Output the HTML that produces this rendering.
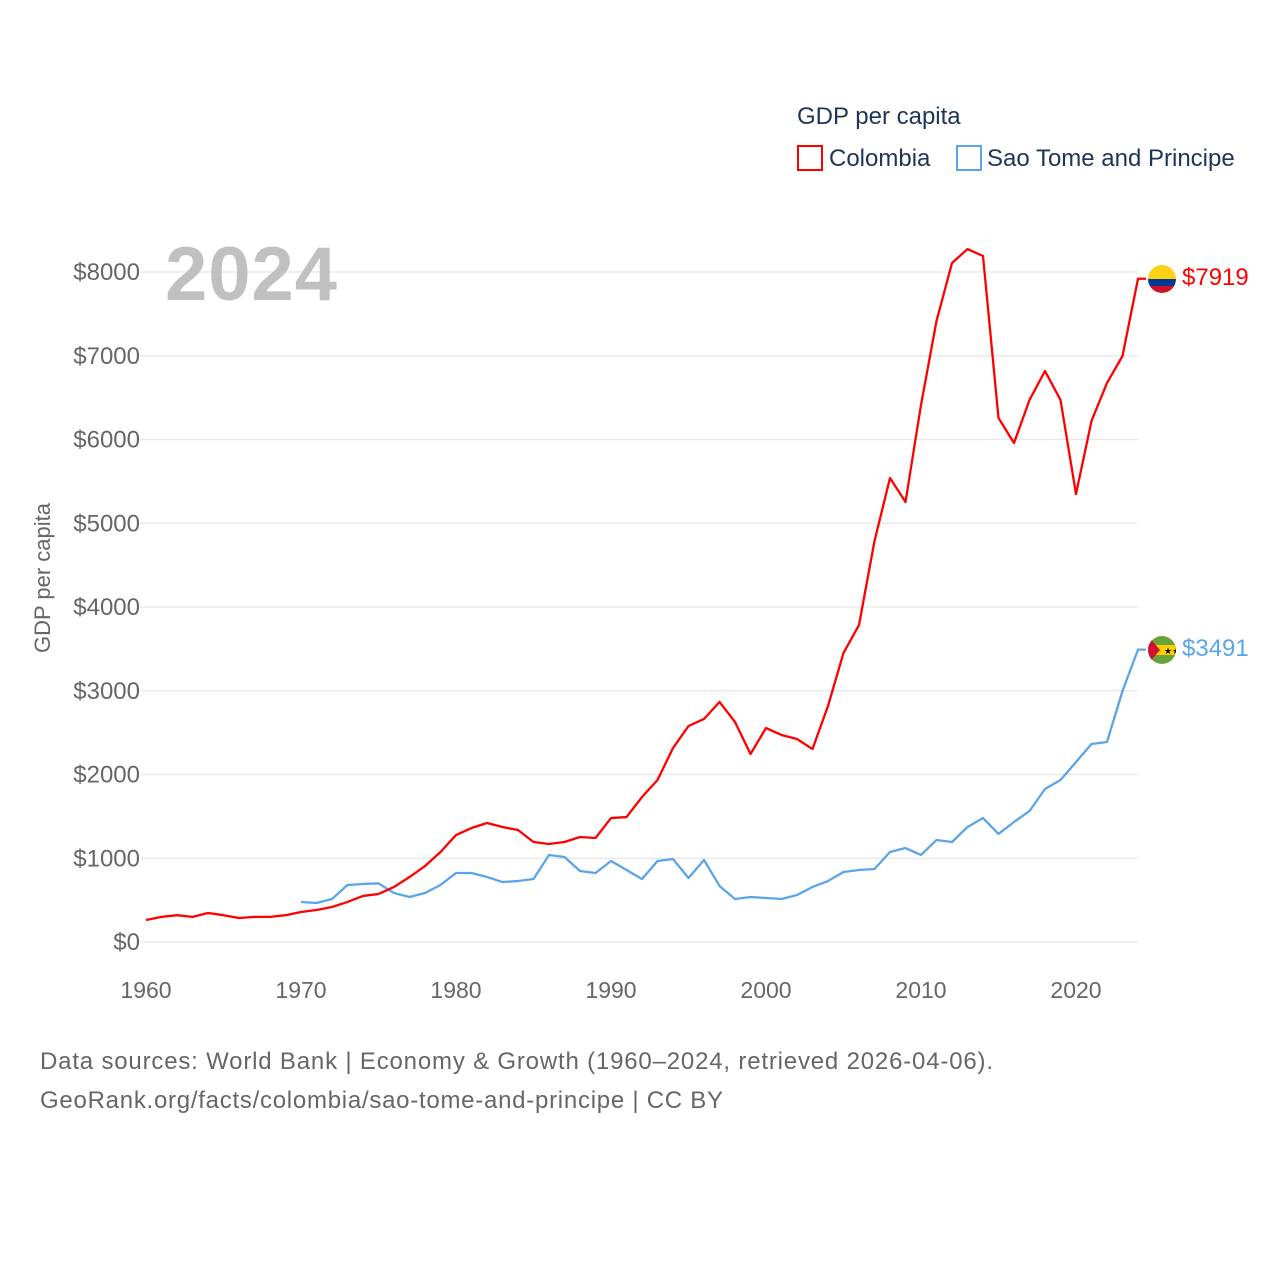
<!DOCTYPE html>
<html><head><meta charset="utf-8"><style>
body{margin:0;background:#fff;font-family:"Liberation Sans",sans-serif}
svg{display:block}
</style></head><body>
<svg width="1280" height="1280" viewBox="0 0 1280 1280">
<g id="grid"></g>
<g id="ylab" font-size="24" fill="#666" text-anchor="end"></g>
<g id="xlab" font-size="23" fill="#666" text-anchor="middle"></g>
<text x="165" y="300" font-size="76" font-weight="bold" fill="#c0c0c0" textLength="172">2024</text>
<text transform="translate(50,578) rotate(-90)" text-anchor="middle" font-size="22" fill="#666">GDP per capita</text>
<g id="lines"></g>
<g>
<text x="797" y="124" font-size="24" fill="#1d3557">GDP per capita</text>
<g><rect x="798" y="146" width="24" height="24" fill="none" stroke="#f00" stroke-width="2"/><text x="829" y="166" font-size="24" fill="#1d3557">Colombia</text></g>
<g><rect x="957" y="146" width="24" height="24" fill="none" stroke="#5aa5ea" stroke-width="2"/><text x="987" y="166" font-size="24" fill="#1d3557">Sao Tome and Principe</text></g>
</g>
<g>
<clipPath id="c1"><circle cx="1162" cy="279" r="14"/></clipPath>
<g clip-path="url(#c1)"><rect x="1148" y="265" width="28" height="14" fill="#fcd116"/><rect x="1148" y="279" width="28" height="7" fill="#003893"/><rect x="1148" y="286" width="28" height="7" fill="#ce1126"/></g>
</g>
<g>
<clipPath id="c2"><circle cx="1162" cy="650" r="14"/></clipPath>
<g clip-path="url(#c2)"><rect x="1148" y="636" width="28" height="28" fill="#6aa339"/><rect x="1148" y="645" width="28" height="10" fill="#ffce00"/><polygon points="1148,636 1160,650 1148,664" fill="#d21034"/><text x="1164" y="654" font-size="9" fill="#000">★★</text></g>
</g>
<text x="1182" y="285" font-size="24" fill="#f00">$7919</text>
<text x="1182" y="656" font-size="24" fill="#5aa5ea">$3491</text>
<text x="40" y="1069" font-size="24" fill="#666" textLength="953">Data sources: World Bank | Economy &amp; Growth (1960–2024, retrieved 2026-04-06).</text>
<text x="40" y="1108" font-size="24" fill="#666" textLength="683">GeoRank.org/facts/colombia/sao-tome-and-principe | CC BY</text>
</svg>
<script>
const yTicks=[0,1000,2000,3000,4000,5000,6000,7000,8000];
const xTicks=[1960,1970,1980,1990,2000,2010,2020];
const colombiaStart=1960;
const colombia=[263,300,320,300,346,320,287,300,300,320,358,382,418,478,550,573,657,776,907,1075,1277,1361,1421,1373,1337,1194,1170,1194,1254,1242,1480,1492,1731,1934,2316,2579,2663,2866,2627,2245,2555,2472,2424,2304,2818,3451,3785,4788,5540,5254,6412,7415,8107,8274,8191,6257,5958,6472,6818,6472,5349,6221,6675,6997,7919];
const stpStart=1970;
const stp=[478,466,513,681,693,700,585,537,585,681,824,824,776,716,728,752,1039,1015,848,824,967,860,752,967,991,764,979,669,513,537,525,513,561,657,728,836,860,872,1075,1122,1039,1218,1194,1373,1480,1290,1433,1564,1827,1934,2149,2364,2388,2997,3491];
const X=y=>146+(y-1960)*15.5;
const Y=v=>942-v*0.08375;
const NS="http://www.w3.org/2000/svg";
const grid=document.getElementById('grid'),yl=document.getElementById('ylab'),xl=document.getElementById('xlab'),lines=document.getElementById('lines');
yTicks.forEach(t=>{
 const l=document.createElementNS(NS,'line');
 
 
 l.setAttribute('x1',140);l.setAttribute('x2',1138);l.setAttribute('y1',Y(t));l.setAttribute('y2',Y(t));
 l.setAttribute('stroke','#e6e6e6');l.setAttribute('stroke-width',1.3);grid.appendChild(l);
 const tx=document.createElementNS(NS,'text');
 
 
 tx.setAttribute('x',140);tx.setAttribute('y',Y(t)+8);tx.textContent='$'+t;yl.appendChild(tx);
});
xTicks.forEach(t=>{
 const tx=document.createElementNS(NS,'text');
 
 
 tx.setAttribute('x',X(t));tx.setAttribute('y',998);tx.textContent=t;xl.appendChild(tx);
});
function draw(data,start,color,name){
 let d=data.map((v,i)=>(i?'L':'M')+X(start+i)+','+Y(v)).join(' ');
 const last=data[data.length-1];
 d+=' L'+(X(start+data.length-1)+8)+','+Y(last);
 const p=document.createElementNS(NS,'path');
 
 
 p.setAttribute('d',d);p.setAttribute('fill','none');p.setAttribute('stroke',color);p.setAttribute('stroke-width',2.3);p.setAttribute('stroke-linejoin','round');
 lines.appendChild(p);
}
draw(stp,stpStart,'#5aa5ea','line-sao-tome');
draw(colombia,colombiaStart,'#f00','line-colombia');
</script>
</body></html>
